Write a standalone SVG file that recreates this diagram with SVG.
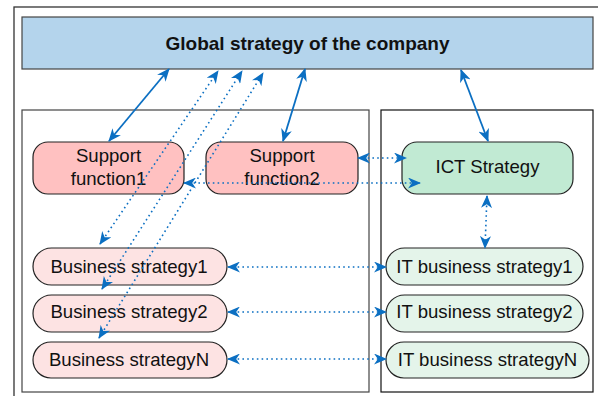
<svg xmlns="http://www.w3.org/2000/svg" width="598" height="396" viewBox="0 0 598 396">
<style>
text{font-family:"Liberation Sans",Arial,sans-serif;font-size:18.6px;fill:#111;text-anchor:middle}
.title{font-weight:bold;font-size:19px}
.sf{fill:#ffc1c1;stroke:#222;stroke-width:1.2}
.bs{fill:#fde3e3;stroke:#222;stroke-width:1.2}
.ict{fill:#c1ead3;stroke:#222;stroke-width:1.2}
.it{fill:#e4f4ea;stroke:#222;stroke-width:1.2}
.solid{stroke:#0b6fc2;stroke-width:1.8;fill:none;marker-start:url(#ah);marker-end:url(#ah)}
.dot{stroke:#0b6fc2;stroke-width:1.6;fill:none;stroke-dasharray:1.6 3.2;marker-start:url(#ah);marker-end:url(#ah)}
</style>
<defs>
<marker id="ah" viewBox="0 0 13 11" refX="12" refY="5.5" markerWidth="13" markerHeight="11" markerUnits="userSpaceOnUse" orient="auto-start-reverse">
<path d="M0,0 L13,5.5 L0,11 L3.8,5.5 Z" fill="#0b6fc2"/>
</marker>
</defs>
<rect x="14" y="7" width="600" height="400" fill="#fff" stroke="#333" stroke-width="1.3"/>
<g id="containers">
<rect x="22" y="110" width="347" height="282" fill="none" stroke="#444" stroke-width="1.2"/>
<rect x="381" y="110" width="212" height="282" fill="none" stroke="#111" stroke-width="1.2"/>
</g>
<g id="global">
<rect x="22" y="17" width="571" height="52" fill="#b4d4ec" stroke="#444" stroke-width="1.2"/>
<text class="title" x="307.5" y="50">Global strategy of the company</text>
</g>
<g id="support1">
<rect class="sf" x="33" y="142" width="151" height="52" rx="15"/>
<text x="108.5" y="162">Support</text>
<text x="108.5" y="185">function1</text>
</g>
<g id="support2">
<rect class="sf" x="206" y="142" width="152" height="52" rx="15"/>
<text x="282" y="162">Support</text>
<text x="282" y="185">function2</text>
</g>
<g id="ict">
<rect class="ict" x="402" y="142" width="171" height="52" rx="15"/>
<text x="487.5" y="173">ICT Strategy</text>
</g>
<g id="bs1">
<rect class="bs" x="33" y="248" width="194" height="37" rx="18.5"/>
<text x="129" y="273">Business strategy1</text>
</g>
<g id="bs2">
<rect class="bs" x="33" y="295" width="194" height="37" rx="18.5"/>
<text x="129" y="318">Business strategy2</text>
</g>
<g id="bsn">
<rect class="bs" x="33" y="342" width="194" height="36" rx="18"/>
<text x="129" y="366">Business strategyN</text>
</g>
<g id="it1">
<rect class="it" x="386" y="248" width="197" height="37" rx="18.5"/>
<text x="484.5" y="273">IT business strategy1</text>
</g>
<g id="it2">
<rect class="it" x="386" y="295" width="197" height="37" rx="18.5"/>
<text x="484.5" y="318">IT business strategy2</text>
</g>
<g id="itn">
<rect class="it" x="386" y="342" width="203" height="36" rx="18"/>
<text x="487.5" y="366">IT business strategyN</text>
</g>
<g id="connectors">
<line class="solid" x1="109" y1="141" x2="169" y2="69"/>
<line class="solid" x1="283" y1="141" x2="305" y2="69"/>
<line class="solid" x1="461" y1="70" x2="488" y2="141"/>
<line class="dot" x1="100" y1="244" x2="218" y2="71"/>
<line class="dot" x1="102" y1="289" x2="242" y2="71"/>
<line class="dot" x1="99" y1="338" x2="263" y2="73"/>
<line class="dot" x1="358" y1="158" x2="406" y2="158"/>
<line class="dot" x1="184" y1="183" x2="420" y2="183"/>
<line class="dot" x1="487" y1="196" x2="485" y2="248"/>
<line class="dot" x1="228" y1="267" x2="386" y2="267"/>
<line class="dot" x1="228" y1="312" x2="386" y2="312"/>
<line class="dot" x1="228" y1="359" x2="386" y2="359"/>
</g>
</svg>
